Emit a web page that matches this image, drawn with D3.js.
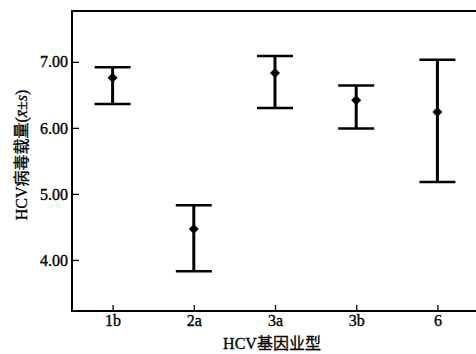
<!DOCTYPE html>
<html>
<head>
<meta charset="utf-8">
<script src="https://cdn.jsdelivr.net/npm/d3@7"></script>
<style>
  body { margin: 0; background: #fff; }
  svg { display: block; }
  .tick text { font-family: "Liberation Serif", "DejaVu Serif", serif; font-size: 16px; fill: #000; stroke: #000; stroke-width: 0.35px; }
  .title { font-family: "Liberation Serif", "Noto Sans CJK SC", serif; font-size: 16px; fill: #000; stroke: #000; stroke-width: 0.3px; }
</style>
</head>
<body>
<div id="chart"></div>
<script>
const width = 476;
const height = 354;

// genotype categories and mean ± s (log viral load)
const genotypes = ["1b", "2a", "3a", "3b", "6"];
const means = [6.76, 4.47, 6.83, 6.42, 6.24];
const upper = [6.92, 4.83, 7.09, 6.64, 7.03];
const lower = [6.36, 3.83, 6.30, 5.99, 5.18];
const yTicks = [4, 5, 6, 7];

const margin = { top: 11, right: 0, bottom: 43, left: 72 };

const svg = d3.select("#chart")
    .append("svg")
    .attr("width", width)
    .attr("height", height);

const x = d3.scalePoint()
    .domain(genotypes)
    .range([margin.left, 478])
    .padding(0.5);

const y = d3.scaleLinear()
    .domain([3.227, 7.77])
    .range([height - margin.bottom, margin.top]);

// frame
const plotBottom = height - margin.bottom;
svg.append("path")
    .attr("d", `M${width + 2},${margin.top}H${margin.left}V${plotBottom}H${width + 2}`)
    .attr("fill", "none")
    .attr("stroke", "#000")
    .attr("stroke-width", 2);

// y axis, ticks point inward
const yAxis = svg.append("g")
    .attr("transform", `translate(${margin.left},0)`)
    .call(d3.axisLeft(y).tickValues(yTicks).tickFormat(d3.format(".2f")).tickSizeInner(-7).tickSizeOuter(0).tickPadding(4));
yAxis.select(".domain").remove();
yAxis.selectAll(".tick line").attr("stroke", "#000").attr("stroke-width", 1.3);

// x axis, ticks point inward
const xAxis = svg.append("g")
    .attr("transform", `translate(0,${plotBottom})`)
    .call(d3.axisBottom(x).tickSizeInner(-6).tickSizeOuter(0).tickPadding(4));
xAxis.select(".domain").remove();
xAxis.selectAll(".tick line").attr("stroke", "#000").attr("stroke-width", 1.3);

// error bars
const capHalf = 18;
const bars = svg.append("g")
    .selectAll("g")
    .data(genotypes)
    .enter()
    .append("g");

bars.append("line")
    .attr("x1", d => x(d)).attr("x2", d => x(d))
    .attr("y1", (d, i) => y(upper[i]))
    .attr("y2", (d, i) => y(lower[i]))
    .attr("stroke", "#000").attr("stroke-width", 3);

bars.append("line")
    .attr("x1", d => x(d) - capHalf).attr("x2", d => x(d) + capHalf)
    .attr("y1", (d, i) => y(upper[i])).attr("y2", (d, i) => y(upper[i]))
    .attr("stroke", "#000").attr("stroke-width", 2.5);

bars.append("line")
    .attr("x1", d => x(d) - capHalf).attr("x2", d => x(d) + capHalf)
    .attr("y1", (d, i) => y(lower[i])).attr("y2", (d, i) => y(lower[i]))
    .attr("stroke", "#000").attr("stroke-width", 2.5);

bars.append("path")
    .attr("d", d3.symbol(d3.symbolDiamond2, 64))
    .attr("transform", (d, i) => `translate(${x(d)},${y(means[i])})`)
    .attr("fill", "#000");

// axis titles
svg.append("text")
    .attr("class", "title")
    .attr("x", 272)
    .attr("y", 349)
    .attr("text-anchor", "middle")
    .text("HCV基因业型");

const yLabel = svg.append("text")
    .attr("class", "title")
    .attr("transform", `translate(27,${(margin.top + plotBottom) / 2 - 6}) rotate(-90)`)
    .attr("text-anchor", "middle");
yLabel.append("tspan").text("HCV病毒载量(");
yLabel.append("tspan").attr("font-style", "italic").text("x\u0304");
yLabel.append("tspan").text("±");
yLabel.append("tspan").attr("font-style", "italic").text("s");
yLabel.append("tspan").text(")");
</script>
</body>
</html>
